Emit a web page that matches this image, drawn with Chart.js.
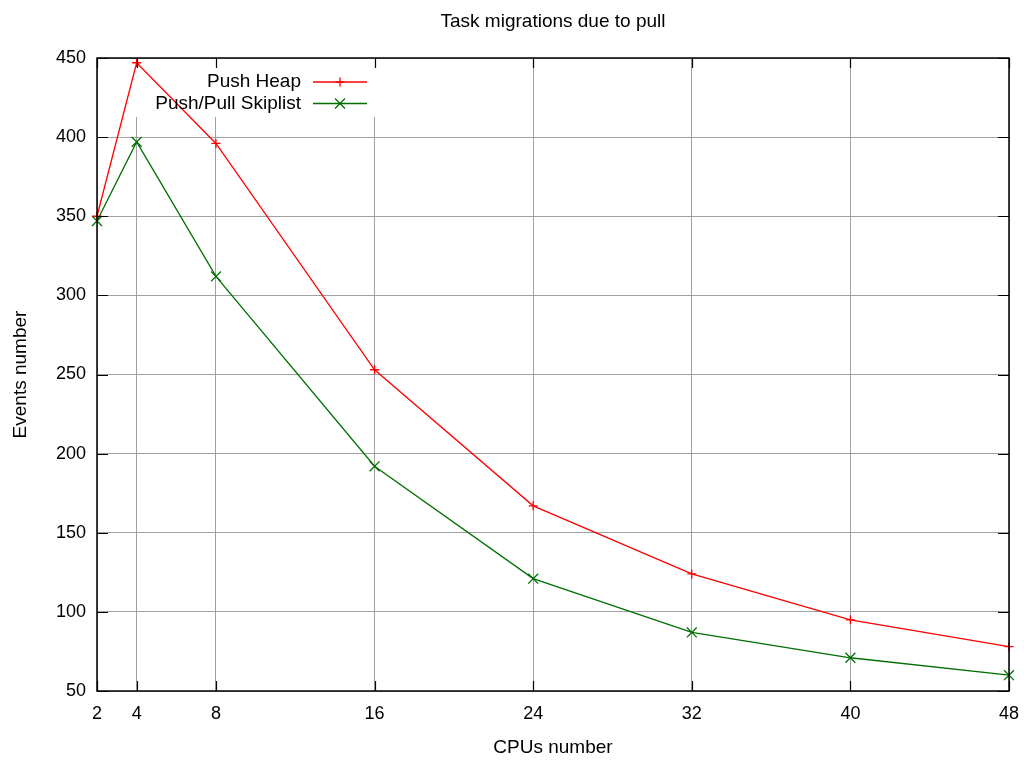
<!DOCTYPE html>
<html>
<head>
<meta charset="utf-8">
<title>Task migrations due to pull</title>
<script src="https://cdn.jsdelivr.net/npm/chart.js@4/dist/chart.umd.min.js"></script>
<style>
    html, body { margin: 0; padding: 0; background: #fff; }
    #wrap { width: 1024px; height: 762px; }
</style>
</head>
<body>
<div id="wrap"><canvas id="migrations"></canvas></div>
<script>
// CPU counts on the x axis
const cpus = [2, 4, 8, 16, 24, 32, 40, 48];
const yTicks = [50, 100, 150, 200, 250, 300, 350, 400, 450];

// pull migration counts per run
const pushHeap = [350, 447, 396, 253, 167, 124, 95, 78];
const pushPullSkiplist = [347, 397, 312, 192, 121, 87, 71, 60];

const FONT = 'Liberation Sans, Arial, sans-serif';
const GRID = '#a0a0a0';
const TEXT_SIZE = 19;
const TICK_SIZE = 18;

// white box behind the key, then border + inward tick marks like gnuplot
const frame = {
    id: 'frame',
    beforeDatasetsDraw(chart) {
        const ctx = chart.ctx;
        const a = chart.chartArea;
        ctx.save();
        ctx.fillStyle = '#fff';
        ctx.fillRect(a.left + 22, a.top + 1, 262, 58);
        ctx.restore();
    },
    afterDatasetsDraw(chart) {
        const ctx = chart.ctx;
        const a = chart.chartArea;
        const xs = chart.scales.x, ys = chart.scales.y;
        ctx.save();
        ctx.strokeStyle = '#000';
        ctx.lineWidth = 1.2;
        ctx.beginPath();
        xs.ticks.forEach(t => {
            const px = Math.round(xs.getPixelForValue(t.value)) + 0.5;
            ctx.moveTo(px, a.bottom); ctx.lineTo(px, a.bottom - 10);
            ctx.moveTo(px, a.top); ctx.lineTo(px, a.top + 10);
        });
        ys.ticks.forEach(t => {
            const py = Math.round(ys.getPixelForValue(t.value)) + 0.5;
            ctx.moveTo(a.left, py); ctx.lineTo(a.left + 11, py);
            ctx.moveTo(a.right, py); ctx.lineTo(a.right - 11, py);
        });
        ctx.stroke();
        ctx.lineWidth = 1.5;
        ctx.strokeRect(a.left, a.top, a.right - a.left, a.bottom - a.top);

        // key: right-aligned label followed by a line sample with its marker
        ctx.font = TEXT_SIZE + 'px ' + FONT;
        ctx.textAlign = 'right';
        ctx.textBaseline = 'middle';
        chart.data.datasets.forEach((ds, i) => {
            const y = a.top + 24 + i * 21.5;
            const x0 = a.left + 216;
            ctx.fillStyle = '#000';
            ctx.fillText(ds.label, a.left + 204, y);
            ctx.strokeStyle = ds.borderColor;
            ctx.lineWidth = ds.borderWidth;
            ctx.beginPath();
            ctx.moveTo(x0, y); ctx.lineTo(x0 + 54, y);
            ctx.stroke();
            Chart.helpers.drawPoint(ctx, {
                pointStyle: ds.pointStyle, radius: ds.pointRadius, borderWidth: ds.borderWidth
            }, x0 + 27, y);
        });
        ctx.restore();
    }
};

new Chart(document.getElementById('migrations'), {
    type: 'line',
    data: {
        datasets: [{
            label: 'Push Heap',
            data: cpus.map((c, i) => ({ x: c, y: pushHeap[i] })),
            borderColor: '#ff0000',
            backgroundColor: '#ff0000',
            borderWidth: 1.3,
            pointStyle: 'cross',
            pointRadius: 4.5,
            pointBorderWidth: 1.3,
            clip: false,
            tension: 0
        }, {
            label: 'Push/Pull Skiplist',
            data: cpus.map((c, i) => ({ x: c, y: pushPullSkiplist[i] })),
            borderColor: '#006f00',
            backgroundColor: '#006f00',
            borderWidth: 1.3,
            pointStyle: 'crossRot',
            pointRadius: 7,
            pointBorderWidth: 1.3,
            clip: false,
            tension: 0
        }]
    },
    options: {
        responsive: true,
        maintainAspectRatio: false,
        animation: false,
        layout: { padding: { left: 0, right: 15, top: 0, bottom: 0 } },
        plugins: {
            legend: { display: false },
            tooltip: { enabled: false },
            title: {
                display: true,
                text: 'Task migrations due to pull',
                fullSize: false,
                color: '#000',
                font: { family: FONT, size: TEXT_SIZE, weight: 'normal' },
                padding: { top: 10, bottom: 25.2 }
            }
        },
        scales: {
            x: {
                type: 'linear',
                min: 2,
                max: 48,
                afterBuildTicks: s => { s.ticks = cpus.map(v => ({ value: v })); },
                afterFit: s => { s.height = 71; s.paddingLeft = 0; s.paddingRight = 0; },
                grid: { color: GRID, lineWidth: 1, drawTicks: false },
                border: { display: false },
                ticks: { color: '#000', padding: 12, autoSkip: false, maxRotation: 0,
                         font: { family: FONT, size: TICK_SIZE } },
                title: { display: true, text: 'CPUs number', color: '#000',
                         font: { family: FONT, size: TEXT_SIZE }, padding: { top: 0, bottom: 3 } }
            },
            y: {
                min: 50,
                max: 450,
                afterBuildTicks: s => { s.ticks = yTicks.map(v => ({ value: v })); },
                afterFit: s => { s.width = 97; s.paddingTop = 0; s.paddingBottom = 0; },
                grid: { color: GRID, lineWidth: 1, drawTicks: false },
                border: { display: false },
                ticks: { color: '#000', padding: 11, font: { family: FONT, size: TICK_SIZE } },
                title: { display: true, text: 'Events number', color: '#000',
                         font: { family: FONT, size: TEXT_SIZE }, padding: { top: 9, bottom: 0 } }
            }
        }
    },
    plugins: [frame]
});
</script>
</body>
</html>
